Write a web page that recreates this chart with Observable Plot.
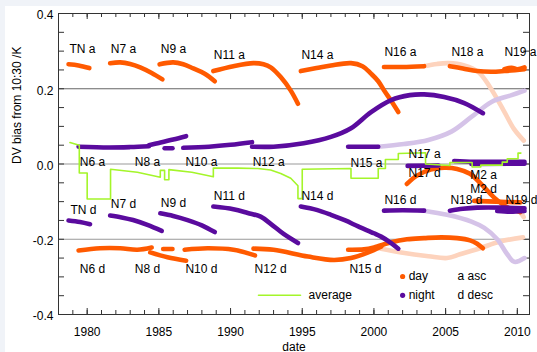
<!DOCTYPE html>
<html>
<head>
<meta charset="utf-8">
<script src="https://cdn.jsdelivr.net/npm/d3@7"></script>
<script src="https://cdn.jsdelivr.net/npm/@observablehq/plot@0.6"></script>
<style>
  html, body { margin: 0; padding: 0; background: #f0f3f8; }
  #chart svg { display: block; clip-path: inset(6px 0 0 5px); }
</style>
</head>
<body>
<div id="chart"></div>
<script>
// ---------- data (year, DV bias in K) ----------
// day, ascending (orange)
const TN_a  = [[1978.7,0.265],[1979.4,0.262],[1980.15,0.255]];
const N7_a  = [[1981.6,0.268],[1982.3,0.27],[1983.0,0.266],[1983.7,0.257],[1984.5,0.242],[1985.25,0.225]];
const N9_a  = [[1985.05,0.265],[1986.0,0.27],[1986.7,0.265],[1987.4,0.254],[1988.2,0.24],[1988.9,0.22]];
const N11_a = [[1988.8,0.247],[1990.2,0.26],[1991.6,0.268],[1992.3,0.265],[1992.8,0.257],[1993.5,0.231],[1994.2,0.195],[1994.7,0.16]];
const N14_a = [[1994.9,0.247],[1996.0,0.255],[1997.0,0.262],[1998.4,0.268],[1999.2,0.26],[1999.8,0.24],[2000.3,0.22],[2000.7,0.196],[2001.2,0.168],[2001.7,0.138]];
const N16_a = [[2000.7,0.258],[2002.0,0.258],[2003.5,0.26]];
const N18_a = [[2005.3,0.26],[2006.2,0.254],[2007.2,0.247],[2008.2,0.245],[2009.1,0.247],[2010.5,0.252]];
const N19_a = [[2009.1,0.252],[2009.6,0.256],[2010.0,0.252],[2010.5,0.257]];
const N17_d = [[2002.3,-0.053],[2003.0,-0.031],[2003.95,-0.015],[2004.9,-0.01],[2005.8,-0.013],[2006.7,-0.026],[2007.45,-0.052],[2008.35,-0.088],[2009.3,-0.115],[2010.2,-0.128]];
const M2_d  = [[2007.0,-0.098],[2008.5,-0.1],[2010.2,-0.102]];
// day, descending (orange)
const N6_d  = [[1979.4,-0.23],[1980.9,-0.224],[1982.3,-0.224],[1983.5,-0.228],[1984.5,-0.222]];
const N8_d  = [[1984.4,-0.235],[1985.6,-0.248],[1986.9,-0.257]];
const N8_d2 = [[1985.3,-0.226],[1985.95,-0.226]];
const N10_d = [[1986.8,-0.228],[1988.4,-0.224],[1990.2,-0.228],[1991.7,-0.243]];
const N12_d = [[1991.6,-0.225],[1993.0,-0.228],[1995.4,-0.246],[1997.2,-0.255],[1998.4,-0.25],[1999.6,-0.235],[2000.5,-0.22]];
const N15_d = [[1998.2,-0.228],[1999.3,-0.227],[2000.0,-0.222],[2001.2,-0.208],[2002.3,-0.2],[2003.5,-0.197],[2004.7,-0.195],[2005.8,-0.197],[2006.7,-0.203],[2007.2,-0.212],[2007.6,-0.224]];
// day, faded
const N16_a_f = [[2003.5,0.26],[2004.4,0.266],[2005.2,0.268],[2006.3,0.262],[2007.3,0.244],[2008.1,0.204],[2009.05,0.142],[2009.75,0.094],[2010.45,0.062]];
const N15_d_f = [[2000.3,-0.224],[2001.9,-0.235],[2003.8,-0.245],[2005.1,-0.25],[2006.0,-0.24],[2007.4,-0.224],[2008.8,-0.206],[2010.4,-0.195]];
const N17_d_f = [[2010.2,-0.128],[2010.45,-0.141]];
// night, ascending (purple)
const N6_a  = [[1979.4,0.046],[1981.5,0.044],[1983.0,0.045],[1984.3,0.047]];
const N8_a  = [[1984.3,0.05],[1985.0,0.056],[1986.0,0.065],[1986.9,0.074]];
const N8_a2 = [[1985.4,0.042],[1985.95,0.042]];
const N10_a = [[1986.7,0.043],[1988.5,0.046],[1990.0,0.051],[1991.5,0.058]];
const N12_a = [[1991.5,0.046],[1993.0,0.046],[1995.1,0.055],[1997.0,0.072],[1998.4,0.095],[1999.8,0.138],[2001.2,0.17],[2002.5,0.183],[2003.5,0.185],[2004.9,0.178],[2006.3,0.162],[2007.6,0.135]];
const N15_a = [[1998.2,0.046],[2000.3,0.046]];
const N17_a = [[2002.35,-0.005],[2004.5,-0.004]];
const M2_a  = [[2005.6,0.008],[2007.0,0.006],[2010.5,0.006]];
const M2_a2 = [[2006.8,0.0],[2010.5,0.001]];
// night, descending (purple)
const TN_d  = [[1978.7,-0.15],[1979.5,-0.154],[1980.2,-0.16]];
const N7_d  = [[1981.6,-0.137],[1982.4,-0.142],[1983.2,-0.149],[1984.2,-0.162],[1985.2,-0.178]];
const N9_d  = [[1985.1,-0.131],[1986.0,-0.138],[1987.0,-0.149],[1988.0,-0.163],[1988.9,-0.181]];
const N11_d = [[1988.8,-0.113],[1990.2,-0.12],[1991.2,-0.13],[1992.1,-0.14],[1992.8,-0.159],[1993.7,-0.186],[1994.7,-0.21]];
const N14_d = [[1994.9,-0.113],[1996.0,-0.122],[1997.0,-0.135],[1998.0,-0.15],[1998.9,-0.166],[2000.0,-0.184],[2000.5,-0.193],[2001.2,-0.21],[2001.7,-0.225]];
const N16_d = [[2000.7,-0.124],[2002.0,-0.123],[2003.5,-0.124]];
const N18_d = [[2005.3,-0.124],[2006.2,-0.119],[2007.2,-0.116],[2009.1,-0.116],[2010.5,-0.118]];
const N19_d = [[2008.6,-0.125],[2009.5,-0.127],[2010.5,-0.125]];
// night, faded
const N15_a_f = [[2000.3,0.046],[2002.1,0.053],[2003.8,0.064],[2005.4,0.086],[2006.8,0.125],[2008.2,0.165],[2009.6,0.183],[2010.5,0.195]];
const N16_d_f = [[2003.5,-0.124],[2005.1,-0.135],[2006.8,-0.153],[2007.7,-0.17],[2008.6,-0.2],[2009.3,-0.24],[2009.8,-0.26],[2010.5,-0.25]];
// average (green)
const average = [[1978.8,0.057],[1979.45,0.05],[1979.45,-0.024],[1980.0,-0.024],[1980.0,-0.093],[1981.63,-0.093],
  [1981.63,-0.014],[1983.5,-0.022],[1985.1,-0.035],[1985.1,-0.017],[1985.4,-0.017],[1985.4,-0.042],[1985.7,-0.042],
  [1985.7,-0.015],[1987.3,-0.022],[1988.8,-0.034],[1988.8,-0.011],[1990.5,-0.011],[1991.9,-0.012],[1992.8,-0.016],
  [1993.5,-0.025],[1994.2,-0.038],[1994.7,-0.058],[1994.7,-0.092],[1995.0,-0.092],[1995.0,-0.014],[1998.4,-0.012],
  [1998.4,-0.038],[2000.3,-0.038],[2000.3,-0.012],[2000.8,-0.012],[2000.8,0.012],[2001.7,0.012],[2001.7,0.028],
  [2003.6,0.03],[2003.6,0.0],[2005.3,-0.004],[2005.3,0.004],[2006.85,0.004],[2006.85,-0.008],[2007.45,-0.008],
  [2007.45,-0.003],[2008.95,-0.003],[2008.95,0.005],[2009.3,0.005],[2009.3,0.014],[2010.05,0.014],[2010.05,0.029],[2010.25,0.029]];

const daySeries   = {TN_a, N7_a, N9_a, N11_a, N14_a, N16_a, N18_a, N19_a, N17_d, M2_d, N6_d, N8_d, N8_d2, N10_d, N12_d, N15_d};
const dayFaded    = {N16_a_f, N15_d_f, N17_d_f};
const nightSeries = {N6_a, N8_a, N8_a2, N10_a, N12_a, N15_a, N17_a, M2_a, M2_a2, TN_d, N7_d, N9_d, N11_d, N14_d, N16_d, N18_d, N19_d};
const nightFaded  = {N15_a_f, N16_d_f};

// satellite labels
const labelNames  = ["TN a","N7 a","N9 a","N11 a","N14 a","N16 a","N18 a","N19 a",
  "N6 a","N8 a","N10 a","N12 a","N15 a","N17 a","N17 d","M2 a","M2 d",
  "TN d","N7 d","N9 d","N11 d","N14 d","N16 d","N18 d","N19 d",
  "N6 d","N8 d","N10 d","N12 d","N15 d"];
const labelYears  = [1979.67,1982.53,1986.02,1989.92,1996.06,2001.85,2006.52,2010.22,
  1980.37,1984.2,1987.97,1992.66,1999.48,2003.53,2003.53,2007.64,2007.64,
  1979.74,1982.53,1986.02,1989.92,1996.06,2001.85,2006.45,2010.29,
  1980.37,1984.2,1987.97,1992.79,1999.41];
const labelValues = [0.304,0.304,0.304,0.288,0.288,0.296,0.296,0.296,
  0.004,0.004,0.004,0.005,0.002,0.025,-0.024,-0.030,-0.066,
  -0.122,-0.108,-0.104,-0.086,-0.086,-0.096,-0.097,-0.096,
  -0.280,-0.280,-0.280,-0.279,-0.279];

// legend
const legendText   = ["day","night","a asc","d desc","average"];
const legendYears  = [2002.42,2002.42,2005.83,2005.83,1995.44];
const legendValues = [-0.299,-0.349,-0.299,-0.349,-0.349];
const legendDotYears  = [2002.0,2002.0];
const legendDotValues = [-0.299,-0.349];
const legendLineYears = [1991.95,1994.88];
const legendLineValue = -0.349;

// axes
const xDomain = [1978, 2010.85];
const yDomain = [-0.4, 0.4];
const xLabelTicks = [1980,1985,1990,1995,2000,2005,2010];
const xMinorTicks = d3.range(1979, 2011);
const yLabelTicks = [-0.4,-0.2,0,0.2,0.4];
const yMinorTicks = d3.range(-8, 9).map(i => i * 0.05);
const gridDark = [0.2];
const gridLight = [0, -0.2];
const yLabel = "DV bias from 10:30 /K";
const xLabel = "date";

// ---------- build ----------
const C = {day: "#ff5a00", dayF: "#fdd3bd", night: "#5a0b9e", nightF: "#d5c3e8", avg: "#a4f52a"};
function rows(obj) {
  const out = [];
  for (const [id, pts] of Object.entries(obj)) for (const [year, value] of pts) out.push({id, year, value});
  return out;
}
const W = 537, H = 352, mL = 58, mR = 8, mT = 13, mB = 38;
const fw = W - mL - mR, fh = H - mT - mB;
const font = "'Liberation Sans', Arial, Helvetica, sans-serif";
const thick = (data, stroke) => Plot.line(rows(data), {x: "year", y: "value", z: "id", stroke, strokeWidth: 4.6, strokeLinecap: "round", strokeLinejoin: "round", curve: "catmull-rom"});

const chart = Plot.plot({
  width: W, height: H, marginLeft: mL, marginRight: mR, marginTop: mT, marginBottom: mB,
  x: {domain: xDomain},
  y: {domain: yDomain},
  style: {fontFamily: font, fontSize: "12px", background: "white", color: "black"},
  marks: [
    Plot.ruleY(gridDark, {stroke: "#666", strokeWidth: 1}),
    Plot.ruleY(gridLight, {stroke: "#999", strokeWidth: 1}),
    Plot.axisX({ticks: xLabelTicks, tickSize: 0, tickPadding: 13, tickFormat: d => String(d), label: null, fontSize: 12}),
    Plot.axisY({ticks: yLabelTicks, tickSize: 0, tickPadding: 5, tickFormat: d => d.toFixed(1), label: null, fontSize: 12, dy: 2}),
    // inward ticks on all four sides
    Plot.tickX(xMinorTicks, {x: d => d, insetTop: fh - 4, stroke: "#333"}),
    Plot.tickX(xMinorTicks, {x: d => d, insetBottom: fh - 4, stroke: "#333"}),
    Plot.tickX(xLabelTicks, {x: d => d, insetTop: fh - 6, stroke: "#333"}),
    Plot.tickX(xLabelTicks, {x: d => d, insetBottom: fh - 6, stroke: "#333"}),
    Plot.tickY(yMinorTicks, {y: d => d, insetRight: fw - 6, stroke: "#333"}),
    Plot.tickY(yMinorTicks, {y: d => d, insetLeft: fw - 6, stroke: "#333"}),
    // faded then strong curves
    thick(dayFaded, C.dayF),
    thick(nightFaded, C.nightF),
    thick(daySeries, C.day),
    thick(nightSeries, C.night),
    Plot.line(average, {x: d => d[0], y: d => d[1], stroke: C.avg, strokeWidth: 1.6}),
    // satellite labels
    Plot.text(labelNames, {x: (d, i) => labelYears[i], y: (d, i) => labelValues[i], text: d => d, fontSize: 12, fill: "black"}),
    // legend
    Plot.dot(legendDotYears, {x: d => d, y: (d, i) => legendDotValues[i], r: 2.6, fill: (d, i) => i === 0 ? C.day : C.night, stroke: null}),
    Plot.line(legendLineYears, {x: d => d, y: () => legendLineValue, stroke: C.avg, strokeWidth: 1.6}),
    Plot.text(legendText, {x: (d, i) => legendYears[i], y: (d, i) => legendValues[i], text: d => d, textAnchor: "start", fontSize: 12, fill: "black"}),
    // axis titles
    Plot.text([yLabel], {frameAnchor: "left", rotate: -90, dx: -41, text: d => d, fontSize: 12, fill: "black"}),
    Plot.text([xLabel], {frameAnchor: "bottom", dy: 36, text: d => d, fontSize: 12, fill: "black"}),
    Plot.frame({stroke: "#333"})
  ]
});
document.getElementById("chart").append(chart);
</script>
</body>
</html>
